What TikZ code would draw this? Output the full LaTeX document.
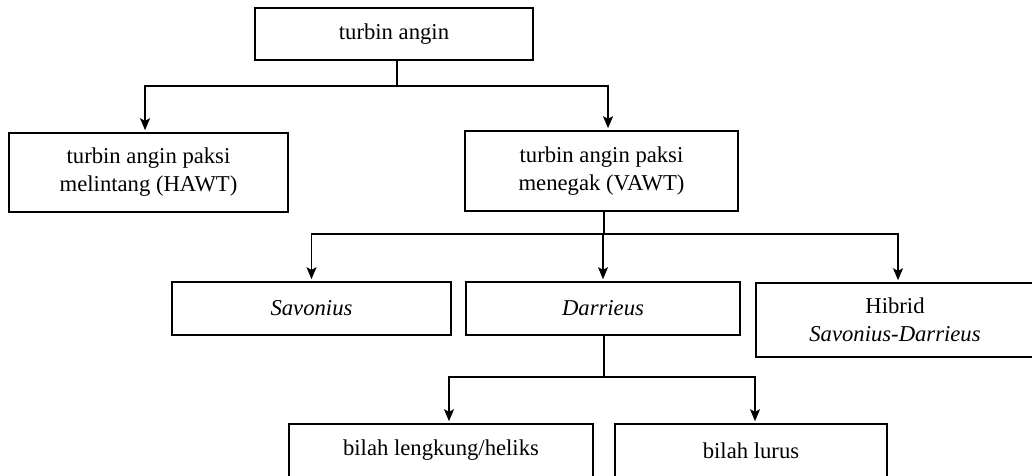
\documentclass[tikz,border=0pt]{standalone}
\usepackage{fontspec}
\setmainfont{Liberation Serif}
\usetikzlibrary{arrows.meta, positioning}

\begin{document}
\begin{tikzpicture}[x=0.75pt, y=-0.75pt,
  box/.style={rectangle, draw, line width=1.2pt, align=center, font=\fontsize{17}{21}\selectfont, minimum height=39.75pt, inner sep=0pt},
  arr/.style={-{Stealth[length=9pt, width=7.5pt, inset=2pt]}, line width=1.1pt, shorten >=1.5pt},
  link/.style={line width=1.1pt}
]
\useasboundingbox (0,0) rectangle (1032,475);
\clip (0,0) rectangle (1032,475);
% boxes
\node[box, minimum width=208.5pt, minimum height=39pt] (wt) at (394,34) {turbin angin};
\node[box, minimum width=209.25pt, minimum height=59.25pt] (hawt) at (148.5,172.5) {turbin angin paksi\\melintang (HAWT)};
\node[box, minimum width=204.75pt, minimum height=60pt] (vawt) at (601.5,171) {turbin angin paksi\\menegak (VAWT)};
\node[box, minimum width=209.25pt] (sav) at (311.5,308.5) {\textit{Savonius}};
\node[box, minimum width=205.5pt] (dar) at (603,308.5) {\textit{Darrieus}};
\node[box, minimum width=208.5pt, minimum height=55.5pt] (hyb) at (895,320) {Hibrid\\\textit{Savonius-Darrieus}};
\node[box, minimum width=228pt] (helix) at (441,450.5) {bilah lengkung/heliks};
\node[box, minimum width=204pt] (lurus) at (751,450.5) {bilah lurus};
% branch points
\coordinate (j1) at (397,86);
\coordinate (j2) at (604,234);
\coordinate (j3) at (604,377);
% connectors
\draw[link] (wt.south -| j1) -- (j1);
\draw[arr] (j1) -| ([xshift=-2.6pt]hawt.north);
\draw[arr] (j1) -| ([xshift=4.9pt]vawt.north);
\draw[link] (vawt.south -| j2) -- (j2);
\draw[arr] (j2) -| (sav.north);
\draw[arr] (j2) -| (dar.north);
\draw[arr] (j2) -| ([xshift=2.25pt]hyb.north);
\draw[link] (dar.south -| j3) -- (j3);
\draw[arr] (j3) -| ([xshift=6pt]helix.north);
\draw[arr] (j3) -| ([xshift=3pt]lurus.north);
\end{tikzpicture}
\end{document}
